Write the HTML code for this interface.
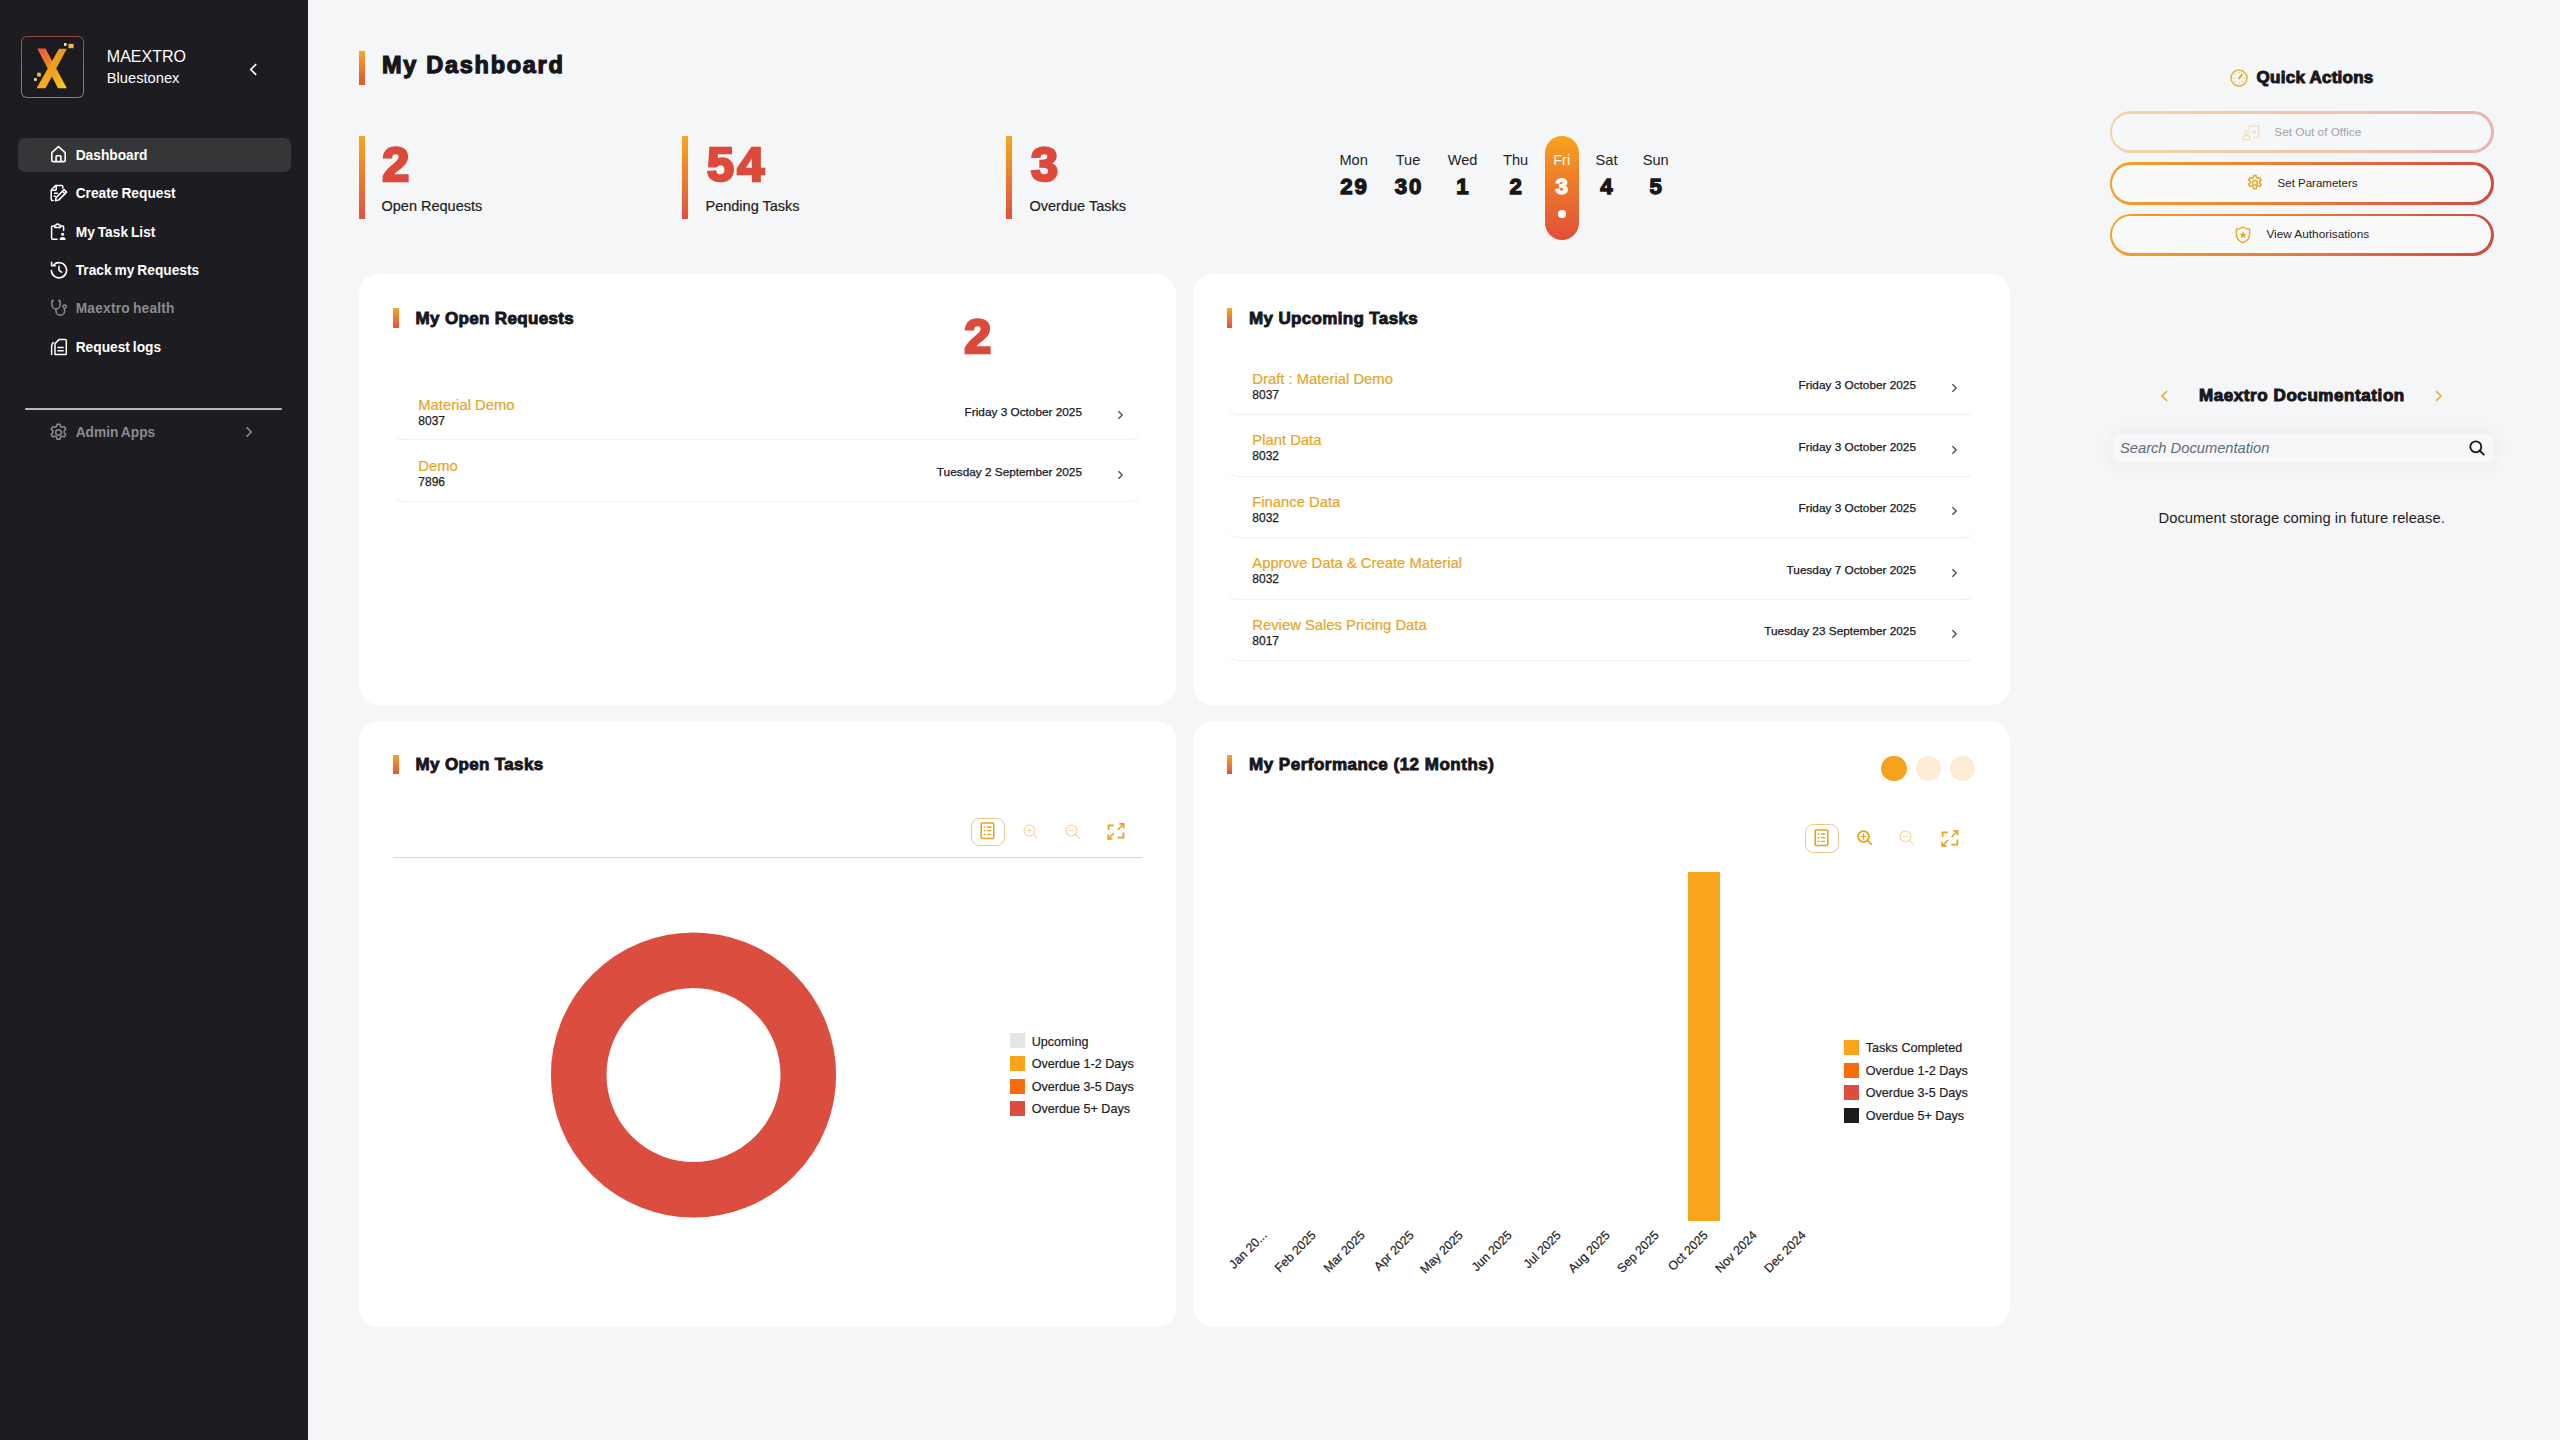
<!DOCTYPE html>
<html lang="en">
<head>
<meta charset="utf-8">
<title>My Dashboard</title>
<style>
*{box-sizing:border-box;margin:0;padding:0}
html,body{width:2560px;height:1440px;overflow:hidden;background:#f5f6f7;font-family:"Liberation Sans",sans-serif;color:#1d1d22}
.a{position:absolute;white-space:nowrap;line-height:1}
svg{position:absolute;overflow:visible}
#side{left:0;top:0;width:308px;height:1440px;background:#1c1c21}
.nav{color:#fff;font-weight:bold;font-size:13.75px;left:75.7px;word-spacing:-0.9px}
.nav.dis{color:#8b8b8e}
.blk{font-weight:bold;-webkit-text-stroke:0.7px currentColor;color:#17171b}
.gbar{background:linear-gradient(180deg,#f5a623 0%,#e0523d 100%)}
.card{background:#fff;border-radius:20px}
.num{font-weight:bold;color:#dc4a3b;-webkit-text-stroke:2.7px #dc4a3b;font-size:48.5px}
.lbl{font-size:14.5px;color:#1d1d22;-webkit-text-stroke:0.2px currentColor}
.row{left:0;width:746px;height:61.5px}
.row .t{left:24.3px;top:20.7px;-webkit-text-stroke:0.2px currentColor;font-size:14.8px;color:#e7a524}
.row .s{left:24.3px;top:37.9px;font-size:12px;color:#1d1d22;-webkit-text-stroke:0.25px currentColor}
.row .d{right:58px;top:29px;font-size:11.8px;color:#17171b;-webkit-text-stroke:0.25px currentColor}
.row .ln{left:0;right:0;top:0;bottom:1px;border-radius:9px;box-shadow:0 2.4px 1.6px -1.5px rgba(20,20,40,.07)}
.lg{font-size:12.6px;color:#1d1d22;-webkit-text-stroke:0.2px currentColor}
.sw{width:15px;height:15px}
.qa{left:2109.8px;width:383.8px;height:42.2px;border-radius:21.1px;background:linear-gradient(90deg,#f0a428 0%,#e8743a 55%,#cf4b45 100%)}
.qa i{position:absolute;left:2.7px;top:2.7px;right:2.7px;bottom:2.7px;border-radius:19px;background:#fafafb}
.qt{font-size:11.8px;color:#1d1d22}
.xl{font-size:12.4px;color:#232327;-webkit-text-stroke:0.2px currentColor;transform-origin:100% 50%;transform:rotate(-45deg);text-align:right}

.cd{width:60px;text-align:center;top:152.6px;font-size:14.6px;color:#1d1d22}
.cn{width:60px;text-align:center;top:176.3px;font-size:22.2px;letter-spacing:1.9px;text-indent:1.9px;-webkit-text-stroke:1.3px currentColor}

.ct{font-size:17px;letter-spacing:0.35px;-webkit-text-stroke:0.9px currentColor}
.up .ln{bottom:-1.5px}
.op .ln{bottom:-0.2px}
.op .row+.row .ln{bottom:-2px}
</style>
</head>
<body>
<div id="side" class="a">
<!-- logo -->
<div class="a" style="left:21.2px;top:35.5px;width:63.3px;height:62.8px;border-radius:6px;background:linear-gradient(180deg,#96483f 0%,#946a4c 35%,#94784c 70%,#9a8048 100%)"><div class="a" style="left:1.3px;top:1.3px;right:1.3px;bottom:1.3px;border-radius:4.8px;background:#1b1b20"></div></div>
<svg style="left:21.2px;top:35.5px" width="63.3" height="62.8" viewBox="0 0 63.3 62.8">
<defs>
<linearGradient id="lx1" x1="0" y1="0" x2="1" y2="1"><stop offset="0" stop-color="#e9503f"/><stop offset="0.45" stop-color="#f08a24"/><stop offset="1" stop-color="#f8d71d"/></linearGradient>
<linearGradient id="lx2" x1="1" y1="0" x2="0" y2="1"><stop offset="0" stop-color="#e6981c"/><stop offset="0.5" stop-color="#f0a01e"/><stop offset="1" stop-color="#f8b01e"/></linearGradient>
</defs>
<polygon points="16.2,12.5 24.5,12.5 45.9,52.3 37,52.3" fill="url(#lx1)"/>
<polygon points="38,12.7 45.9,12.7 24.5,52.3 15.6,52.3" fill="url(#lx2)"/>
<rect x="43" y="7" width="2.6" height="2.9" fill="#f3dcb4"/>
<rect x="47.4" y="7.8" width="5.2" height="4.4" fill="#f2b648"/>
<rect x="16.2" y="36.7" width="3.6" height="3.9" fill="#f0bd3c"/>
<rect x="13" y="42.2" width="2.8" height="2.6" fill="#f3dcc0"/>
</svg>
<div class="a" id="t_mae" style="left:106.8px;top:48.7px;font-size:16px;color:#fff">MAEXTRO</div>
<div class="a" id="t_blu" style="left:106.8px;top:71px;font-size:14.7px;color:#fff">Bluestonex</div>
<svg style="left:249px;top:63px" width="9" height="13" viewBox="0 0 9 13"><path d="M7.2 1.2 L1.8 6.5 L7.2 11.8" fill="none" stroke="#fff" stroke-width="1.7"/></svg>

<div class="a" style="left:17.5px;top:138px;width:273px;height:34px;border-radius:7px;background:#363639"></div>

<!-- nav icons -->
<svg style="left:50px;top:145px" width="17" height="18" viewBox="0 0 17 18" fill="none" stroke="#fff" stroke-width="1.6" stroke-linejoin="round" stroke-linecap="round"><path d="M1.8 7.6 L8.5 1.6 L15.2 7.6 V15.4 a1.2 1.2 0 0 1 -1.2 1.2 H3 a1.2 1.2 0 0 1 -1.2 -1.2 Z"/><path d="M6.1 16.4 V11.6 a0.8 0.8 0 0 1 .8 -.8 h3.2 a0.8 0.8 0 0 1 .8 .8 V16.4"/></svg>
<div class="a nav" id="n1" style="top:148.8px">Dashboard</div>

<svg style="left:49.5px;top:184px" width="18" height="18" viewBox="0 0 18 18" fill="none" stroke="#fff" stroke-width="1.5" stroke-linejoin="round" stroke-linecap="round"><path d="M3.2 16.4 H2.2 a1 1 0 0 1 -1 -1 V6 L5.8 1.4 H11.8 a1 1 0 0 1 1 1 V4.2"/><path d="M6.2 1.6 V5.4 a.8 .8 0 0 1 -.8 .8 H1.6"/><path d="M4.6 9.2 H7.4 M4.2 12.2 H5.2"/><path d="M14.1 5.6 l2.5 2.5 l-8 8 l-3.1 .6 l.6 -3.1 Z"/><path d="M12.4 7.3 l2.5 2.5"/></svg>
<div class="a nav" id="n2" style="top:187.1px">Create Request</div>

<svg style="left:50px;top:223px" width="17" height="18" viewBox="0 0 17 18" fill="none" stroke="#fff" stroke-width="1.5" stroke-linejoin="round" stroke-linecap="round"><path d="M7 16.2 H2.6 a1 1 0 0 1 -1 -1 V4 a1 1 0 0 1 1 -1 H4.6"/><path d="M10.6 3 H12.6 a1 1 0 0 1 1 1 V7.4"/><path d="M4.8 4.4 V2.8 a.8 .8 0 0 1 .8 -.8 h.6 a1.5 1.5 0 0 1 2.8 0 h.6 a.8 .8 0 0 1 .8 .8 V4.4 Z"/><circle cx="12.6" cy="11.2" r="1.5" fill="#fff" stroke="none"/><path d="M9.6 16.9 a3 3 0 0 1 6 0 Z" fill="#fff" stroke="none"/></svg>
<div class="a nav" id="n3" style="top:225.6px">My Task List</div>

<svg style="left:49.5px;top:261px" width="18" height="18" viewBox="0 0 18 18" fill="none" stroke="#fff" stroke-width="1.55" stroke-linejoin="round" stroke-linecap="round"><path d="M1.4 9.6 a7.6 7.6 0 1 0 2.4 -5.9"/><path d="M1.6 1.2 V4.8 H5.2"/><path d="M9 5.2 V9.3 L11.6 11.2"/></svg>
<div class="a nav" id="n4" style="top:263.8px">Track my Requests</div>

<svg style="left:49.5px;top:299px" width="18" height="18" viewBox="0 0 18 18" fill="none" stroke="#8b8b8e" stroke-width="1.5" stroke-linejoin="round" stroke-linecap="round"><path d="M3.4 1.4 H2 V6 a4 4 0 0 0 8 0 V1.4 H8.6"/><path d="M6 10 V12 a4.3 4.3 0 0 0 8.6 0 V9.4"/><circle cx="14.6" cy="7.6" r="1.7"/></svg>
<div class="a nav dis" id="n5" style="letter-spacing:0.2px;top:302.2px">Maextro health</div>

<svg style="left:49.5px;top:338px" width="18" height="18" viewBox="0 0 18 18" fill="none" stroke="#fff" stroke-width="1.5" stroke-linejoin="round" stroke-linecap="round"><path d="M5 16.6 V5.6 L9 1.6 H15.4 a.9 .9 0 0 1 .9 .9 V15.7 a.9 .9 0 0 1 -.9 .9 Z"/><path d="M8 9.6 H13.2 M8 12.8 H13.2"/><path d="M1.6 16.4 V8.8 a6 6 0 0 1 1.6 -4.2"/></svg>
<div class="a nav" id="n6" style="top:340.5px">Request logs</div>

<div class="a" style="left:25px;top:407.5px;width:256.5px;height:2px;background:#b9b9bc;border-radius:1px"></div>

<svg style="left:48.1px;top:421.8px" width="21" height="21" viewBox="0 0 24 24" fill="none" stroke="#8b8b8e" stroke-width="1.75" stroke-linejoin="round" stroke-linecap="round"><circle cx="12" cy="12" r="3.2"/><path d="M10.3 2.5 h3.4 l.6 2.6 a7.3 7.3 0 0 1 1.8 1 l2.5 -.8 l1.7 3 l-1.9 1.8 a7.3 7.3 0 0 1 0 2.1 l1.9 1.8 l-1.7 3 l-2.5 -.8 a7.3 7.3 0 0 1 -1.8 1 l-.6 2.6 h-3.4 l-.6 -2.6 a7.3 7.3 0 0 1 -1.8 -1 l-2.5 .8 l-1.7 -3 l1.9 -1.8 a7.3 7.3 0 0 1 0 -2.1 l-1.9 -1.8 l1.7 -3 l2.5 .8 a7.3 7.3 0 0 1 1.8 -1 Z"/></svg>
<div class="a nav dis" id="n7" style="top:425.6px">Admin Apps</div>
<svg style="left:245px;top:425.5px" width="8" height="12" viewBox="0 0 8 12"><path d="M1.6 1.4 L6.2 6 L1.6 10.6" fill="none" stroke="#8b8b8e" stroke-width="1.6"/></svg>
</div>
<div id="main">
<!-- heading -->
<div class="a gbar" style="left:359px;top:51px;width:5.5px;height:33.5px"></div>
<div class="a blk" id="h1" style="left:382px;top:54px;font-size:23.5px;letter-spacing:1.72px;-webkit-text-stroke:1.25px currentColor">My Dashboard</div>

<!-- stats -->
<div class="a gbar" style="left:359px;top:135.5px;width:5.5px;height:83.5px"></div>
<div class="a num" id="s1" style="left:382.3px;top:139.8px">2</div>
<div class="a lbl" id="l1" style="left:381.5px;top:198.5px">Open Requests</div>

<div class="a gbar" style="left:682px;top:135.5px;width:5.5px;height:83.5px"></div>
<div class="a num" id="s2" style="left:707px;top:139.8px;letter-spacing:3.2px">54</div>
<div class="a lbl" id="l2" style="left:705.5px;top:198.5px">Pending Tasks</div>

<div class="a gbar" style="left:1006px;top:135.5px;width:5.5px;height:83.5px"></div>
<div class="a num" id="s3" style="left:1031px;top:139.8px">3</div>
<div class="a lbl" id="l3" style="left:1029.5px;top:198.5px">Overdue Tasks</div>

<!-- calendar -->
<div class="a" style="left:1545px;top:135.5px;width:33.5px;height:104px;border-radius:17px;background:linear-gradient(180deg,#f7a51c 0%,#ee7a2a 45%,#e04e3a 100%)"></div>
<div class="a" style="left:1557.5px;top:210.2px;width:8.2px;height:8.2px;border-radius:50%;background:#fff"></div>
<div class="a cd" id="c1" style="left:1323.6px">Mon</div><div class="a cn blk" style="left:1323.6px">29</div>
<div class="a cd" id="c2" style="left:1378px">Tue</div><div class="a cn blk" style="left:1378px">30</div>
<div class="a cd" id="c3" style="left:1432.5px">Wed</div><div class="a cn blk" style="left:1432.5px">1</div>
<div class="a cd" id="c4" style="left:1485.6px">Thu</div><div class="a cn blk" style="left:1485.6px">2</div>
<div class="a cd" id="c5" style="left:1531.7px;color:#fff">Fri</div><div class="a cn blk" style="left:1531.7px;color:#fff">3</div>
<div class="a cd" id="c6" style="left:1576.5px">Sat</div><div class="a cn blk" style="left:1576.5px">4</div>
<div class="a cd" id="c7" style="left:1625.7px">Sun</div><div class="a cn blk" style="left:1625.7px">5</div>

<!-- quick actions -->
<svg style="left:2230px;top:68.8px" width="18" height="18" viewBox="0 0 18 18" fill="none" stroke="#e3b23a" stroke-width="1.5" stroke-linecap="round"><circle cx="9" cy="9" r="8"/><path d="M9 9.4 L12 5.6" stroke="#e8a020" stroke-width="1.7"/><g stroke="#e6bb55" stroke-width="1.3"><path d="M9 3.6v.1M5.2 5.2l.1.1M3.6 9h.1M5.2 12.8l.1-.1M9 14.4v-.1M12.8 12.8l-.1-.1M14.4 9h-.1"/></g></svg>
<div class="a blk" id="qh" style="left:2256.6px;top:69.2px;font-size:17px;letter-spacing:0.25px;-webkit-text-stroke:1px currentColor">Quick Actions</div>

<div class="a qa" style="top:111px;height:41.8px;opacity:.38"><i></i></div>
<div class="a qa" style="top:162.4px"><i></i></div>
<div class="a qa" style="top:213.6px"><i></i></div>

<svg style="left:2242px;top:124.5px;opacity:.3" width="18" height="16" viewBox="0 0 18 16" fill="none" stroke="#e3b23a" stroke-width="1.4" stroke-linejoin="round" stroke-linecap="round"><path d="M7.2 3.6 V1 H16.6 V12.6 H11.6"/><circle cx="4.6" cy="7.6" r="2"/><path d="M1 14.8 v-1.6 a2.4 2.4 0 0 1 2.4 -2.4 h2.4 a2.4 2.4 0 0 1 2.4 2.4 v1.6 Z"/><path d="M9.6 7 H13.4 M11.8 5.2 L13.6 7 L11.8 8.8"/></svg>
<div class="a qt" id="q1" style="left:2274.3px;top:126.8px;color:#a3a3a6">Set Out of Office</div>

<svg style="left:2245.6px;top:174.4px" width="17.8" height="17.8" viewBox="0 0 24 24" fill="none" stroke="#e5ad2c" stroke-width="2.1" stroke-linejoin="round" stroke-linecap="round"><circle cx="12" cy="12" r="3.3"/><path d="M10.3 2.2 h3.4 l.6 2.8 a7.3 7.3 0 0 1 1.8 1 l2.7 -.9 l1.7 3 l-2.1 1.9 a7.3 7.3 0 0 1 0 2 l2.1 1.9 l-1.7 3 l-2.7 -.9 a7.3 7.3 0 0 1 -1.8 1 l-.6 2.8 h-3.4 l-.6 -2.8 a7.3 7.3 0 0 1 -1.8 -1 l-2.7 .9 l-1.7 -3 l2.1 -1.9 a7.3 7.3 0 0 1 0 -2 l-2.1 -1.9 l1.7 -3 l2.7 .9 a7.3 7.3 0 0 1 1.8 -1 Z"/></svg>
<div class="a qt" id="q2" style="left:2277.6px;top:177.8px;font-size:11.5px">Set Parameters</div>

<svg style="left:2235px;top:226px" width="16" height="18" viewBox="0 0 16 18" fill="none" stroke="#e5ad2c" stroke-width="1.5" stroke-linejoin="round"><path d="M8 1.2 C10 2.6 12.4 3.2 14.6 3.2 V8.6 C14.6 12.6 11.8 15.4 8 16.8 C4.2 15.4 1.4 12.6 1.4 8.6 V3.2 C3.6 3.2 6 2.6 8 1.2 Z"/><path d="M8 5.6 l1 2.1 l2.3 .3 l-1.7 1.6 l.4 2.3 l-2 -1.1 l-2 1.1 l.4 -2.3 l-1.7 -1.6 l2.3 -.3 Z" fill="#e9a420" stroke="none"/></svg>
<div class="a qt" id="q3" style="left:2266.4px;top:229.2px">View Authorisations</div>

<!-- documentation -->
<svg style="left:2159.5px;top:389.5px" width="9" height="12" viewBox="0 0 9 12"><path d="M7 1.2 L2 6 L7 10.8" fill="none" stroke="#e3b23a" stroke-width="1.7"/></svg>
<div class="a blk" id="dh" style="left:2199px;top:387.2px;font-size:17px;letter-spacing:0.58px;-webkit-text-stroke:1px currentColor">Maextro Documentation</div>
<svg style="left:2434px;top:389.5px" width="9" height="12" viewBox="0 0 9 12"><path d="M2 1.2 L7 6 L2 10.8" fill="none" stroke="#e3b23a" stroke-width="1.7"/></svg>

<div class="a" style="left:2112.5px;top:434.3px;width:380px;height:28.3px;border-radius:7px;background:#f7f7f9;box-shadow:0 1px 14px 4px rgba(60,60,80,.035)"></div>
<div class="a" id="sp" style="left:2120px;top:440.5px;font-size:14.7px;font-style:italic;color:#5d6b7a">Search Documentation</div>
<svg style="left:2468.5px;top:440px" width="16" height="16" viewBox="0 0 16 16" fill="none" stroke="#17171b" stroke-width="1.85" stroke-linecap="round"><circle cx="6.8" cy="6.8" r="5.5"/><path d="M11 11 L14.8 14.6"/></svg>
<div class="a" id="dt" style="left:2158.6px;top:511px;font-size:14.75px;color:#1d1d22">Document storage coming in future release.</div>

<!-- card: open requests -->
<div class="a card" style="left:359px;top:274px;width:817px;height:430.5px">
<div class="a gbar" style="left:34px;top:33.5px;width:5.5px;height:20px"></div>
<div class="a blk ct" id="k1" style="left:56.5px;top:36.1px">My Open Requests</div>
<div class="a num" id="k1n" style="left:605.3px;top:37.6px">2</div>
<div class="a op" style="left:35px;top:103.5px;width:746px;height:200px">
<div class="a row" style="top:0px"><div class="a t">Material Demo</div><div class="a s">8037</div><div class="a d">Friday 3 October 2025</div><svg style="right:16.5px;top:32px" width="7" height="10" viewBox="0 0 7 10"><path d="M1.4 1.2 L5.2 5 L1.4 8.8" fill="none" stroke="#4a4a50" stroke-width="1.3"/></svg><div class="a ln"></div></div>
<div class="a row" style="top:60.4px"><div class="a t">Demo</div><div class="a s">7896</div><div class="a d">Tuesday 2 September 2025</div><svg style="right:16.5px;top:32px" width="7" height="10" viewBox="0 0 7 10"><path d="M1.4 1.2 L5.2 5 L1.4 8.8" fill="none" stroke="#4a4a50" stroke-width="1.3"/></svg><div class="a ln"></div></div>
</div>
</div>

<!-- card: upcoming tasks -->
<div class="a card" style="left:1192.5px;top:274px;width:817px;height:430.5px">
<div class="a gbar" style="left:34px;top:33.5px;width:5.5px;height:20px"></div>
<div class="a blk ct" id="k2" style="left:56.5px;top:36.1px">My Upcoming Tasks</div>
<div class="a up" style="left:35.5px;top:77.1px;width:746px;height:320px">
<div class="a row" style="top:0px"><div class="a t">Draft : Material Demo</div><div class="a s">8037</div><div class="a d">Friday 3 October 2025</div><svg style="right:16.5px;top:32px" width="7" height="10" viewBox="0 0 7 10"><path d="M1.4 1.2 L5.2 5 L1.4 8.8" fill="none" stroke="#4a4a50" stroke-width="1.3"/></svg><div class="a ln"></div></div>
<div class="a row" style="top:61.5px"><div class="a t">Plant Data</div><div class="a s">8032</div><div class="a d">Friday 3 October 2025</div><svg style="right:16.5px;top:32px" width="7" height="10" viewBox="0 0 7 10"><path d="M1.4 1.2 L5.2 5 L1.4 8.8" fill="none" stroke="#4a4a50" stroke-width="1.3"/></svg><div class="a ln"></div></div>
<div class="a row" style="top:123px"><div class="a t">Finance Data</div><div class="a s">8032</div><div class="a d">Friday 3 October 2025</div><svg style="right:16.5px;top:32px" width="7" height="10" viewBox="0 0 7 10"><path d="M1.4 1.2 L5.2 5 L1.4 8.8" fill="none" stroke="#4a4a50" stroke-width="1.3"/></svg><div class="a ln"></div></div>
<div class="a row" style="top:184.5px"><div class="a t">Approve Data &amp; Create Material</div><div class="a s">8032</div><div class="a d">Tuesday 7 October 2025</div><svg style="right:16.5px;top:32px" width="7" height="10" viewBox="0 0 7 10"><path d="M1.4 1.2 L5.2 5 L1.4 8.8" fill="none" stroke="#4a4a50" stroke-width="1.3"/></svg><div class="a ln"></div></div>
<div class="a row" style="top:246px"><div class="a t">Review Sales Pricing Data</div><div class="a s">8017</div><div class="a d">Tuesday 23 September 2025</div><svg style="right:16.5px;top:32px" width="7" height="10" viewBox="0 0 7 10"><path d="M1.4 1.2 L5.2 5 L1.4 8.8" fill="none" stroke="#4a4a50" stroke-width="1.3"/></svg><div class="a ln"></div></div>
</div>
</div>

<!-- card: open tasks -->
<div class="a card" style="left:359px;top:720.5px;width:817px;height:606px"></div>
<div class="a gbar" style="left:393px;top:755px;width:5.5px;height:19px"></div>
<div class="a blk ct" id="k3" style="left:415.5px;top:756.3px">My Open Tasks</div>

<div class="a" style="left:971px;top:817.8px;width:34px;height:28.4px;border-radius:8.5px;border:1px solid #ecc58a"></div>
<svg style="left:980.3px;top:822.2px" width="15" height="17.4" viewBox="0 0 15 18" fill="none" stroke="#e9a01c" stroke-width="1.6" stroke-linecap="round"><rect x="1" y="1" width="13" height="16" rx="1"/><path d="M4.2 5.2h.4M4.2 9h.4M4.2 12.8h.4" stroke-width="1.7"/><path d="M7.4 5.2h3.6M7.4 9h3.6M7.4 12.8h3.6" stroke-width="1.4"/></svg>
<svg style="left:1022.5px;top:823.8px;opacity:0.38" width="15.8" height="15.8" viewBox="0 0 17 17" fill="none" stroke="#e9a01c" stroke-width="1.45" stroke-linecap="round"><circle cx="7" cy="7" r="5.8"/><path d="M11.4 11.4 L15.4 15.2"/><path d="M7 4.2 V9.8 M4.2 7 H9.8" stroke-width="1.3"/></svg>
<svg style="left:1065.2px;top:823.8px;opacity:.38" width="15.8" height="15.8" viewBox="0 0 17 17" fill="none" stroke="#e9a01c" stroke-width="1.45" stroke-linecap="round"><circle cx="7" cy="7" r="5.8"/><path d="M11.4 11.4 L15.4 15.2"/><path d="M4.2 7 H9.8" stroke-width="1.3"/></svg>
<svg style="left:1107px;top:823.0px" width="18" height="17" viewBox="0 0 18 17" fill="none" stroke="#e9a01c" stroke-width="1.7"><path d="M1.6 7 V2.4 H6.8"/><path d="M16.4 9.6 V14.6 H10.4"/><path d="M10.6 7 L16.4 1.2" stroke-width="1.6"/><path d="M12.4 .9 H16.7 V5.2" stroke-width="1.6"/><path d="M7 10 L1.4 15.6" stroke-width="1.6"/><path d="M1.1 11.6 V15.9 H5.4" stroke-width="1.6"/></svg>

<div class="a" style="left:392.5px;top:856.6px;width:749.5px;height:1.8px;background:#d6d6d9"></div>
<svg style="left:543px;top:925px" width="300" height="300" viewBox="-150 -150 300 300"><circle cx="0.5" cy="0" r="114.8" fill="none" stroke="#db4d3f" stroke-width="55.6"/></svg>
<div class="a sw" style="left:1010px;top:1033.4px;background:#e5e5e7"></div><div class="a lg" style="left:1031.7px;top:1035.5px">Upcoming</div>
<div class="a sw" style="left:1010px;top:1056.0px;background:#f9a51c"></div><div class="a lg" style="left:1031.7px;top:1058.1px">Overdue 1-2 Days</div>
<div class="a sw" style="left:1010px;top:1078.6px;background:#fa6b0a"></div><div class="a lg" style="left:1031.7px;top:1080.7px">Overdue 3-5 Days</div>
<div class="a sw" style="left:1010px;top:1101.2px;background:#db4d3f"></div><div class="a lg" style="left:1031.7px;top:1103.3px">Overdue 5+ Days</div>

<!-- card: performance -->
<div class="a card" style="left:1192.5px;top:720.5px;width:817px;height:606px"></div>
<div class="a gbar" style="left:1226.5px;top:755px;width:5.5px;height:19px"></div>
<div class="a blk ct" id="k4" style="left:1249px;top:756.3px;letter-spacing:0.5px">My Performance (12 Months)</div>
<div class="a" style="left:1881.4px;top:756.1px;width:25.2px;height:25.2px;border-radius:50%;background:#f6a21e"></div>
<div class="a" style="left:1915.7px;top:756.1px;width:25.2px;height:25.2px;border-radius:50%;background:#fdebd4"></div>
<div class="a" style="left:1949.7px;top:756.1px;width:25.2px;height:25.2px;border-radius:50%;background:#fdebd4"></div>

<div class="a" style="left:1805px;top:824.3px;width:34px;height:28.4px;border-radius:8.5px;border:1px solid #ecc58a"></div>
<svg style="left:1814.3px;top:828.7px" width="15" height="17.4" viewBox="0 0 15 18" fill="none" stroke="#e9a01c" stroke-width="1.6" stroke-linecap="round"><rect x="1" y="1" width="13" height="16" rx="1"/><path d="M4.2 5.2h.4M4.2 9h.4M4.2 12.8h.4" stroke-width="1.7"/><path d="M7.4 5.2h3.6M7.4 9h3.6M7.4 12.8h3.6" stroke-width="1.4"/></svg>
<svg style="left:1856.5px;top:830.3px;opacity:1" width="15.8" height="15.8" viewBox="0 0 17 17" fill="none" stroke="#e9a01c" stroke-width="1.9" stroke-linecap="round"><circle cx="7" cy="7" r="5.8"/><path d="M11.4 11.4 L15.4 15.2"/><path d="M7 4.2 V9.8 M4.2 7 H9.8" stroke-width="1.3"/></svg>
<svg style="left:1899.2px;top:830.3px;opacity:.38" width="15.8" height="15.8" viewBox="0 0 17 17" fill="none" stroke="#e9a01c" stroke-width="1.45" stroke-linecap="round"><circle cx="7" cy="7" r="5.8"/><path d="M11.4 11.4 L15.4 15.2"/><path d="M4.2 7 H9.8" stroke-width="1.3"/></svg>
<svg style="left:1941px;top:829.5px" width="18" height="17" viewBox="0 0 18 17" fill="none" stroke="#e9a01c" stroke-width="1.7"><path d="M1.6 7 V2.4 H6.8"/><path d="M16.4 9.6 V14.6 H10.4"/><path d="M10.6 7 L16.4 1.2" stroke-width="1.6"/><path d="M12.4 .9 H16.7 V5.2" stroke-width="1.6"/><path d="M7 10 L1.4 15.6" stroke-width="1.6"/><path d="M1.1 11.6 V15.9 H5.4" stroke-width="1.6"/></svg>

<div class="a" style="left:1688.3px;top:871.8px;width:32px;height:349.1px;background:#f9a51c"></div>
<div class="a xl" style="left:1185.0px;top:1227px;width:80px">Jan 20...</div>
<div class="a xl" style="left:1234.0px;top:1227px;width:80px">Feb 2025</div>
<div class="a xl" style="left:1283.0px;top:1227px;width:80px">Mar 2025</div>
<div class="a xl" style="left:1332.0px;top:1227px;width:80px">Apr 2025</div>
<div class="a xl" style="left:1381.0px;top:1227px;width:80px">May 2025</div>
<div class="a xl" style="left:1430.0px;top:1227px;width:80px">Jun 2025</div>
<div class="a xl" style="left:1479.0px;top:1227px;width:80px">Jul 2025</div>
<div class="a xl" style="left:1528.0px;top:1227px;width:80px">Aug 2025</div>
<div class="a xl" style="left:1577.0px;top:1227px;width:80px">Sep 2025</div>
<div class="a xl" style="left:1626.0px;top:1227px;width:80px">Oct 2025</div>
<div class="a xl" style="left:1675.0px;top:1227px;width:80px">Nov 2024</div>
<div class="a xl" style="left:1724.0px;top:1227px;width:80px">Dec 2024</div>
<div class="a sw" style="left:1844px;top:1040.0px;background:#f9a51c"></div><div class="a lg" style="left:1865.7px;top:1042.1px">Tasks Completed</div>
<div class="a sw" style="left:1844px;top:1062.6px;background:#fa6b0a"></div><div class="a lg" style="left:1865.7px;top:1064.7px">Overdue 1-2 Days</div>
<div class="a sw" style="left:1844px;top:1085.2px;background:#db4d3f"></div><div class="a lg" style="left:1865.7px;top:1087.3px">Overdue 3-5 Days</div>
<div class="a sw" style="left:1844px;top:1107.8px;background:#1c1c1f"></div><div class="a lg" style="left:1865.7px;top:1109.9px">Overdue 5+ Days</div>

</div>
</body>
</html>
